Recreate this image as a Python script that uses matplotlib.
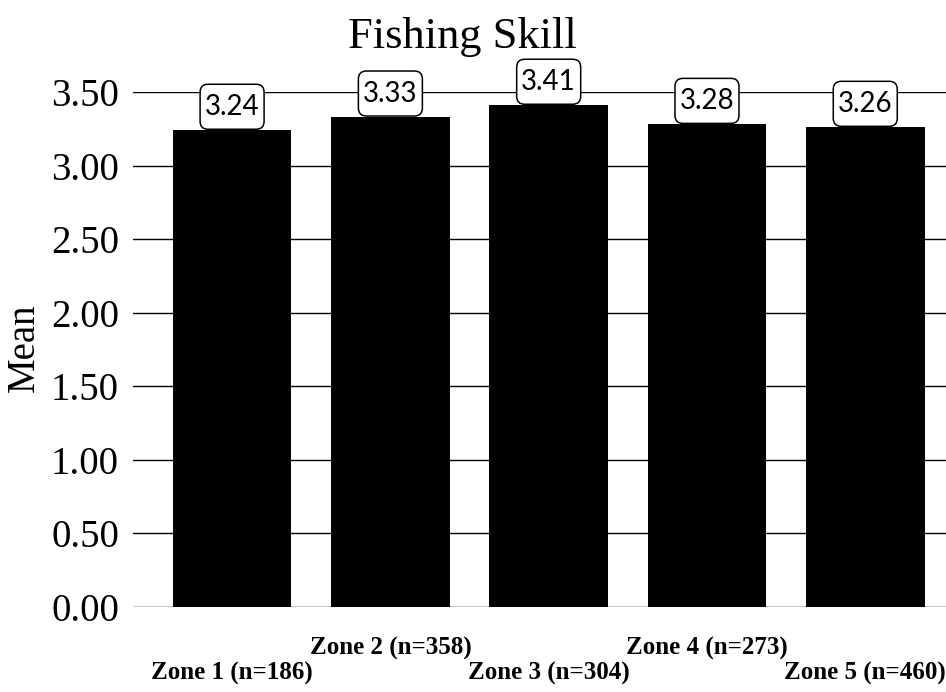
import matplotlib
matplotlib.use("Agg")
import matplotlib.pyplot as plt
from matplotlib.patches import FancyBboxPatch
from matplotlib.transforms import ScaledTranslation, blended_transform_factory

categories = ["Zone 1 (n=186)", "Zone 2 (n=358)", "Zone 3 (n=304)", "Zone 4 (n=273)", "Zone 5 (n=460)"]
means = [3.24, 3.33, 3.41, 3.28, 3.26]
value_labels = ["3.24", "3.33", "3.41", "3.28", "3.26"]
yticks = [0.0, 0.5, 1.0, 1.5, 2.0, 2.5, 3.0, 3.5]
ytick_labels = ["0.00", "0.50", "1.00", "1.50", "2.00", "2.50", "3.00", "3.50"]

serif = ["Liberation Serif", "DejaVu Serif"]

fig = plt.figure(figsize=(9.46, 6.92), dpi=100)
ax = fig.add_axes([133/946, 1-607/692, 1-133/946, (607-92)/692])

x = list(range(len(categories)))
ax.bar(x, means, width=0.75, color="black", zorder=2)

for xi, m, lab in zip(x, means, value_labels):
    tr = fig.dpi_scale_trans + ScaledTranslation(xi, m, ax.transData)
    box = FancyBboxPatch((-0.32, 0.01), 0.64, 0.45,
                         boxstyle="round,pad=0,rounding_size=0.08",
                         fc="white", ec="black", lw=1.1, transform=tr,
                         zorder=3, clip_on=False)
    ax.add_patch(box)
    ax.text(0.0, 0.235, lab, transform=tr, ha="center", va="center",
            fontsize=20, family=["Lato", "DejaVu Sans"], zorder=4)

ax.set_ylim(0, 3.5)
ax.set_xlim(-0.626, 4.51)
ax.set_yticks(yticks)
ax.set_yticklabels(ytick_labels, family=serif, fontsize=28)
ax.yaxis.grid(True, color="black", lw=1, zorder=0)
ax.set_axisbelow(True)
ax.tick_params(axis="y", length=0, pad=10)

ax.set_xticks(x)
ax.set_xticklabels([])
ax.tick_params(axis="x", length=0)
btr = blended_transform_factory(ax.transData, fig.transFigure)
for i, c in enumerate(categories):
    ybase = 680 if i % 2 == 0 else 655
    ax.text(i, 1 - ybase/692, c, transform=btr, ha="center", va="baseline",
            family=serif, fontsize=18, fontweight="bold")

for s in ax.spines.values():
    s.set_visible(False)

fig.text(24/946, 1-348/692, "Mean", rotation=90, ha="center", va="center",
         family=serif, fontsize=28)
fig.text(462/946, 1-48/692, "Fishing Skill", ha="center", va="baseline",
         family=serif, fontsize=32)

fig.savefig("out.png", dpi=100)
